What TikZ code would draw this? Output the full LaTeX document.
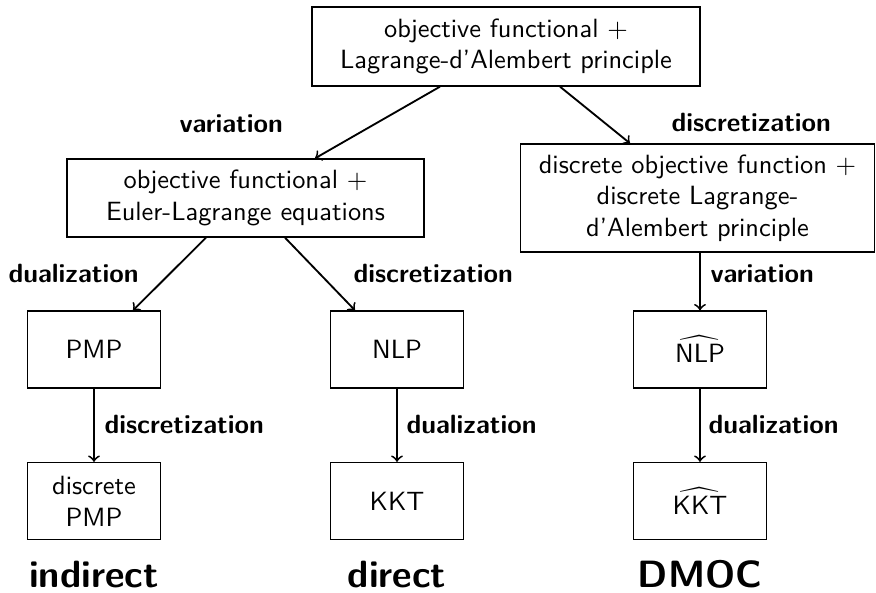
\documentclass[tikz,border=0pt]{standalone}
\usepackage{amsmath}
\renewcommand{\familydefault}{\sfdefault}
\def\pu{0.379pt}
\tikzset{
  box/.style={draw, line width=0.5pt, align=center, inner sep=2pt, font=\normalsize},
  smallbox/.style={box, minimum width=133*\pu, minimum height=77*\pu},
  edge/.style={->, line width=0.7pt},
  lbl/.style={anchor=base west, inner sep=0pt, font=\bfseries},
  method/.style={anchor=base, inner sep=0pt, font=\Large\bfseries}
}
\begin{document}
\begin{tikzpicture}[x=\pu, y=-\pu]
\useasboundingbox (0,0) rectangle (876,592);

% continuous problem and first-level refinements
\node[box, minimum width=388*\pu, minimum height=79*\pu] (top) at (506,46.5)
  {objective functional $+$\\Lagrange-d'Alembert principle};
\node[box, minimum width=357*\pu, minimum height=78*\pu] (el) at (245.5,198)
  {objective functional $+$\\Euler-Lagrange equations};
\node[box, minimum width=354*\pu, minimum height=108*\pu] (dla) at (697.5,198)
  {discrete objective function $+$\\discrete Lagrange-\\d'Alembert principle};

% second row
\node[smallbox] (pmp)  at (94,349.5)  {PMP};
\node[smallbox] (nlp)  at (397,349.5) {NLP};
\node[smallbox] (nlph) at (700,349.5) {$\widehat{\text{NLP}}$};

% third row
\node[smallbox] (dpmp) at (94,501)  {discrete\\PMP};
\node[smallbox] (kkt)  at (397,501) {KKT};
\node[smallbox] (kkth) at (700,501) {$\widehat{\text{KKT}}$};

% connectors
\draw[edge] ([xshift=-66*\pu]top.south) -- ([xshift=69.5*\pu]el.north);
\draw[edge] ([xshift=54*\pu]top.south) -- ([xshift=-67.5*\pu]dla.north);
\draw[edge] ([xshift=-39.5*\pu]el.south) -- ([xshift=39*\pu]pmp.north);
\draw[edge] ([xshift=39.5*\pu]el.south) -- ([xshift=-42*\pu]nlp.north);
\draw[edge] (nlph.north |- dla.south) -- (nlph.north);
\draw[edge] (pmp) -- (dpmp);
\draw[edge] (nlp) -- (kkt);
\draw[edge] (nlph) -- (kkth);

% connector labels
\node[lbl] (v1) at (179,132) {variation};
\node[lbl] (d1) at (671,131) {discretization};
\node[lbl] (u1) at (8,282)   {dualization};
\node[lbl] (d2) at (353,282) {discretization};
\node[lbl] (v2) at (710,282) {variation};
\node[lbl] (d3) at (104,433) {discretization};
\node[lbl] (u2) at (406,433) {dualization};
\node[lbl] (u3) at (708,433) {dualization};

% approach names
\node[method] (m1) at (94,587)  {indirect};
\node[method] (m2) at (397,587) {direct};
\node[method] (m3) at (700,587) {DMOC};
\end{tikzpicture}
\end{document}
